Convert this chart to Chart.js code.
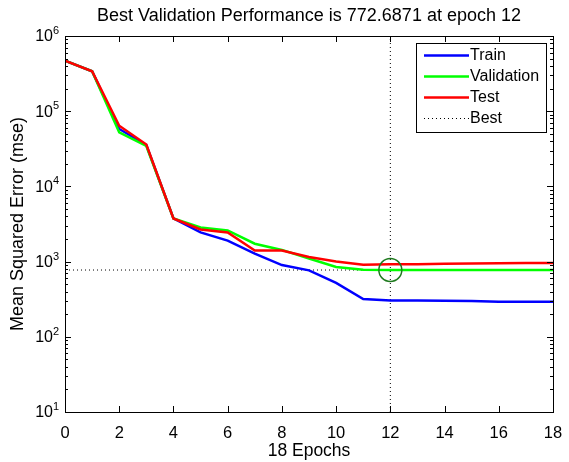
<!DOCTYPE html>
<html>
<head>
<meta charset="utf-8">
<script src="https://cdn.jsdelivr.net/npm/chart.js@4/dist/chart.umd.min.js"></script>
<style>
  html, body { margin: 0; padding: 0; background: #fff; }
</style>
</head>
<body>
<canvas id="perf-chart" width="569" height="462"></canvas>
<script>
// values (mse per epoch)
const epochs = [0, 1, 2, 3, 4, 5, 6, 7, 8, 9, 10, 11, 12, 13, 14, 15, 16, 17, 18];
const trainMse = [470000, 340000, 58000, 35500, 3750, 2450, 1900, 1280, 900, 765, 520, 318, 305, 303, 302, 300, 292, 292, 292];
const validMse = [470000, 340000, 52500, 34500, 3750, 2840, 2600, 1730, 1430, 1100, 850, 780, 772.6871, 772, 772, 772, 772, 772, 772];
const testMse = [470000, 340000, 64000, 36000, 3750, 2670, 2440, 1400, 1400, 1150, 1000, 910, 920, 925, 935, 940, 950, 960, 960];
const bestEpoch = 12;
const bestPerf = 772.6871;
const xTicks = [0, 2, 4, 6, 8, 10, 12, 14, 16, 18];
const yTicks = [10, 100, 1000, 10000, 100000, 1000000];

const FONT = "'Liberation Sans', Arial, Helvetica, sans-serif";

const toPoints = (vals) => vals.map((v, i) => ({ x: epochs[i], y: v }));

// Box around the axes with inward ticks, matlab style, plus 10^n labels
const frameTicks = {
    id: 'frameTicks',
    afterDatasetsDraw(chart) {
        const { ctx, chartArea: a, scales: { x, y } } = chart;
        ctx.save();
        ctx.strokeStyle = '#000';
        ctx.lineWidth = 1;
        ctx.beginPath();
        xTicks.forEach(t => {
            const px = Math.round(x.getPixelForValue(t)) + 0.5;
            ctx.moveTo(px, a.bottom); ctx.lineTo(px, a.bottom - 6);
            ctx.moveTo(px, a.top); ctx.lineTo(px, a.top + 6);
        });
        for (let e = 1; e <= 6; e++) {
            for (let m = 1; m <= 9; m++) {
                const v = m * Math.pow(10, e);
                if (v > 1000000) break;
                const py = Math.round(y.getPixelForValue(v)) + 0.5;
                const len = m === 1 ? 6 : 3;
                ctx.moveTo(a.left, py); ctx.lineTo(a.left + len, py);
                ctx.moveTo(a.right, py); ctx.lineTo(a.right - len, py);
            }
        }
        ctx.stroke();
        ctx.strokeRect(Math.round(a.left) + 0.5, Math.round(a.top) + 0.5,
            Math.round(a.right - a.left), Math.round(a.bottom - a.top));

        // y tick labels with a small raised exponent
        ctx.fillStyle = '#000';
        ctx.textBaseline = 'middle';
        yTicks.forEach(v => {
            const py = y.getPixelForValue(v);
            const exp = String(Math.round(Math.log10(v)));
            ctx.font = '11px ' + FONT;
            ctx.textAlign = 'left';
            ctx.fillText(exp, 53, py - 5);
            ctx.font = '16px ' + FONT;
            ctx.textAlign = 'right';
            ctx.fillText('10', 53, py + 1);
        });
        ctx.restore();
    }
};

// Legend box in the top right corner
const boxLegend = {
    id: 'boxLegend',
    afterDraw(chart) {
        const { ctx } = chart;
        const items = chart.data.datasets.filter(d => d.label);
        ctx.save();
        ctx.fillStyle = '#fff';
        ctx.fillRect(416, 43, 130, 89);
        ctx.strokeStyle = '#000';
        ctx.lineWidth = 1;
        ctx.setLineDash([]);
        ctx.strokeRect(416.5, 43.5, 130, 89);
        ctx.font = '16px ' + FONT;
        ctx.textBaseline = 'middle';
        items.forEach((d, i) => {
            const yy = 55 + i * 21;
            ctx.strokeStyle = d.borderColor;
            ctx.lineWidth = d.borderWidth;
            ctx.setLineDash(d.borderDash || []);
            ctx.beginPath();
            ctx.moveTo(424, yy + 0.5);
            ctx.lineTo(469, yy + 0.5);
            ctx.stroke();
            ctx.setLineDash([]);
            ctx.fillStyle = '#000';
            ctx.fillText(d.label, 470, yy + 1);
        });
        ctx.restore();
    }
};

const ctx = document.getElementById('perf-chart').getContext('2d');
new Chart(ctx, {
    type: 'line',
    data: {
        datasets: [
            {
                label: 'Train',
                data: toPoints(trainMse),
                borderColor: '#0000ff',
                borderWidth: 2.5,
                pointRadius: 0,
                order: 3
            },
            {
                label: 'Validation',
                data: toPoints(validMse),
                borderColor: '#00ff00',
                borderWidth: 2.5,
                pointRadius: 0,
                order: 2
            },
            {
                label: 'Test',
                data: toPoints(testMse),
                borderColor: '#ff0000',
                borderWidth: 2.5,
                pointRadius: 0,
                order: 1
            },
            {
                label: 'Best',
                data: [{ x: 0, y: bestPerf }, { x: bestEpoch, y: bestPerf }],
                borderColor: '#000',
                borderWidth: 1,
                borderDash: [1, 3],
                pointRadius: 0,
                order: 4
            },
            {
                data: [{ x: bestEpoch, y: 10 }, { x: bestEpoch, y: 1000000 }],
                borderColor: '#000',
                borderWidth: 1,
                borderDash: [1, 3],
                pointRadius: 0,
                order: 4
            },
            {
                data: [{ x: bestEpoch, y: bestPerf }],
                showLine: false,
                pointRadius: 11.5,
                pointBorderWidth: 1.5,
                pointBorderColor: '#1f7a1f',
                pointBackgroundColor: 'rgba(0,0,0,0)',
                order: 0
            }
        ]
    },
    options: {
        responsive: false,
        animation: false,
        layout: { padding: { left: 0, right: 16, top: 0, bottom: 0 } },
        plugins: {
            legend: { display: false },
            tooltip: { enabled: false },
            title: {
                display: true,
                fullSize: false,
                text: 'Best Validation Performance is 772.6871 at epoch 12',
                color: '#000',
                font: { family: FONT, size: 18, weight: 'normal' },
                padding: { top: 5, bottom: 9.4 }
            }
        },
        scales: {
            x: {
                type: 'linear',
                min: 0,
                max: 18,
                // invisible tick marks only push the labels down; the real ticks point inward
                grid: { display: true, drawOnChartArea: false, drawTicks: true, tickLength: 6, color: 'rgba(0,0,0,0)' },
                border: { display: false },
                afterBuildTicks: (scale) => { scale.ticks = xTicks.map(v => ({ value: v })); },
                afterFit: (scale) => { scale.height = 50; },
                ticks: {
                    color: '#000',
                    padding: 6,
                    maxRotation: 0,
                    font: { family: FONT, size: 16.5 }
                },
                title: {
                    display: true,
                    text: '18 Epochs',
                    color: '#000',
                    font: { family: FONT, size: 17.5 },
                    padding: { top: 0, bottom: 0 }
                }
            },
            y: {
                type: 'logarithmic',
                min: 10,
                max: 1000000,
                grid: { display: false, drawTicks: false },
                border: { display: false },
                afterBuildTicks: (scale) => { scale.ticks = yTicks.map(v => ({ value: v })); },
                afterFit: (scale) => { scale.width = 65; },
                ticks: { display: false },
                title: {
                    display: true,
                    text: 'Mean Squared Error (mse)',
                    color: '#000',
                    font: { family: FONT, size: 18 },
                    padding: { top: 7, bottom: 0 }
                }
            }
        }
    },
    plugins: [frameTicks, boxLegend]
});
</script>
</body>
</html>
